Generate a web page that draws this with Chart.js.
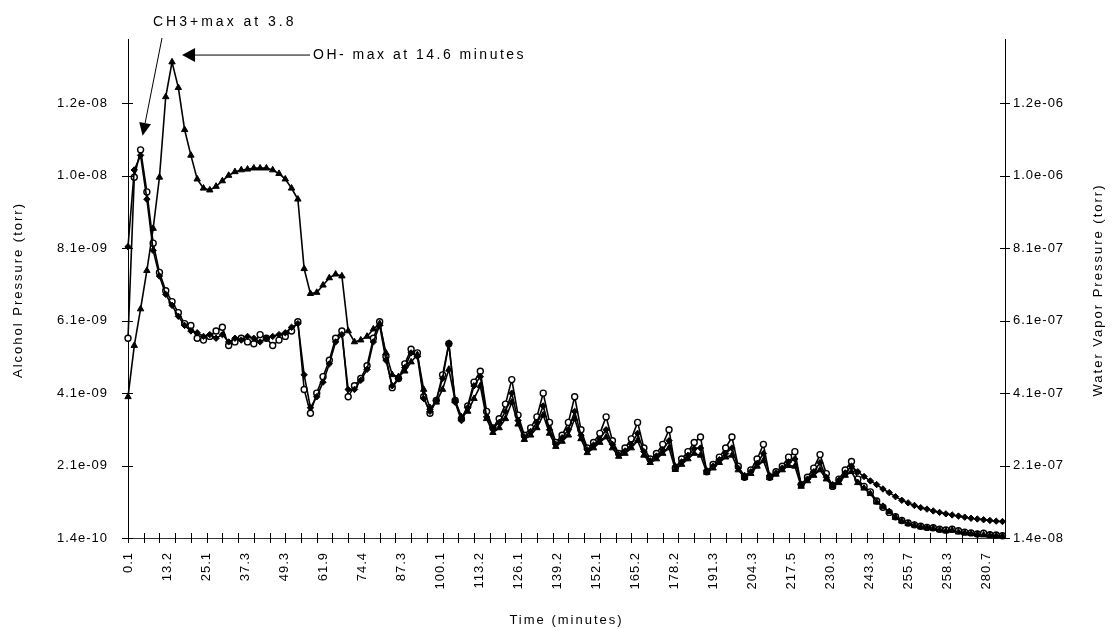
<!DOCTYPE html>
<html>
<head>
<meta charset="utf-8">
<title>Alcohol y vapor de agua</title>
<script src="https://cdn.jsdelivr.net/npm/chart.js@4/dist/chart.umd.min.js"></script>
<style>
  html, body { margin: 0; padding: 0; background: #fff; }
  #grafico { display: block; }
</style>
</head>
<body>
<canvas id="grafico" width="1114" height="629"></canvas>
<script>
// Etiquetas del eje de tiempo (minutos), tal como salen en la figura
const tiempos = ['0.1', '13.2', '25.1', '37.3', '49.3', '61.9', '74.4', '87.3', '100.1', '113.2', '126.1',
  '139.2', '152.1', '165.2', '178.2', '191.3', '204.3', '217.5', '230.3', '243.3', '255.7', '258.3', '280.7'];

// Etiquetas de los ejes de presión
const etiquetasIzq = ['1.4e-10', '2.1e-09', '4.1e-09', '6.1e-09', '8.1e-09', '1.0e-08', '1.2e-08'];
const etiquetasDer = ['1.4e-08', '2.1e-07', '4.1e-07', '6.1e-07', '8.1e-07', '1.0e-06', '1.2e-06'];

// CH3+ (x 1e-9 torr), una lectura cada 10 muestras
const ch3Mas = [
  5.6, 10.0, 10.75, 9.6, 8.2, 7.4, 6.9, 6.6, 6.3, 6.0,
  5.95, 5.6, 5.55, 5.65, 5.8, 5.9, 5.4, 5.5, 5.6, 5.5,
  5.45, 5.7, 5.6, 5.4, 5.55, 5.65, 5.8, 6.05, 4.2, 3.55,
  4.1, 4.55, 5.0, 5.6, 5.8, 4.0, 4.3, 4.5, 4.85, 5.6,
  6.05, 5.1, 4.25, 4.5, 4.9, 5.3, 5.2, 4.0, 3.55, 3.9,
  4.6, 5.45, 3.9, 3.4, 3.75, 4.4, 4.7, 3.6, 3.15, 3.4,
  3.8, 4.47, 3.5, 2.95, 3.15, 3.45, 4.1, 3.3, 2.75, 2.95,
  3.3, 4.0, 3.1, 2.6, 2.75, 3.0, 3.45, 2.8, 2.45, 2.6,
  2.85, 3.3, 2.6, 2.3, 2.45, 2.7, 3.1, 2.05, 2.3, 2.5,
  2.75, 2.9, 1.95, 2.15, 2.35, 2.6, 2.9, 2.1, 1.8, 2.0,
  2.3, 2.7, 1.8, 1.95, 2.1, 2.35, 2.5, 1.6, 1.8, 2.05,
  2.42, 1.9, 1.55, 1.75, 2.0, 2.23, 1.75, 1.55, 1.4, 1.15,
  0.98, 0.84, 0.72, 0.62, 0.55, 0.5, 0.46, 0.43, 0.42, 0.38,
  0.36, 0.38, 0.34, 0.3, 0.28, 0.25, 0.27, 0.23, 0.22, 0.2
];

// OH- (x 1e-9 torr)
const ohMenos = [
  4.0, 5.4, 6.4, 7.45, 8.6, 10.0, 12.2, 13.15, 12.45, 11.3,
  10.6, 9.95, 9.7, 9.65, 9.75, 9.9, 10.05, 10.15, 10.2, 10.22,
  10.25, 10.25, 10.25, 10.2, 10.1, 9.95, 9.7, 9.4, 7.5, 6.82,
  6.85, 7.05, 7.25, 7.35, 7.3, 5.8, 5.5, 5.55, 5.65, 5.85,
  6.0, 5.2, 4.6, 4.55, 4.7, 4.95, 5.15, 4.2, 3.7, 3.85,
  4.2, 4.75, 3.9, 3.45, 3.6, 3.95, 4.3, 3.4, 3.02, 3.15,
  3.4, 3.85, 3.25, 2.83, 2.95, 3.15, 3.5, 3.0, 2.64, 2.78,
  2.95, 3.4, 2.85, 2.47, 2.6, 2.75, 2.9, 2.6, 2.37, 2.45,
  2.6, 2.8, 2.4, 2.2, 2.3, 2.45, 2.6, 2.01, 2.15, 2.3,
  2.45, 2.4, 1.93, 2.05, 2.2, 2.35, 2.4, 2.0, 1.79, 1.9,
  2.1, 2.25, 1.79, 1.88, 2.0, 2.12, 2.1, 1.55, 1.7, 1.85,
  2.0, 1.75, 1.55, 1.65, 1.85, 1.95, 1.65, 1.5, 1.35, 1.12,
  1.0, 0.86, 0.7, 0.6, 0.53, 0.49, 0.44, 0.42, 0.4, 0.36,
  0.33, 0.35, 0.3, 0.28, 0.26, 0.24, 0.22, 0.21, 0.2, 0.19
];

// Vapor de agua (x 1e-7 torr), eje derecho
const vaporAgua = [
  8.1, 10.2, 10.6, 9.4, 8.0, 7.3, 6.8, 6.5, 6.2, 5.95,
  5.8, 5.75, 5.65, 5.7, 5.6, 5.7, 5.5, 5.6, 5.55, 5.65,
  5.6, 5.5, 5.6, 5.65, 5.7, 5.75, 5.9, 6.0, 4.6, 3.7,
  4.0, 4.4, 4.9, 5.5, 5.7, 4.2, 4.2, 4.45, 4.75, 5.5,
  5.95, 5.0, 4.3, 4.5, 4.8, 5.2, 5.1, 3.95, 3.6, 3.9,
  4.5, 5.45, 3.85, 3.35, 3.7, 4.3, 4.55, 3.45, 3.15, 3.3,
  3.6, 4.1, 3.35, 2.9, 3.05, 3.3, 3.75, 3.1, 2.7, 2.88,
  3.1, 3.6, 2.95, 2.55, 2.68, 2.85, 3.1, 2.7, 2.42, 2.52,
  2.7, 3.0, 2.5, 2.25, 2.38, 2.55, 2.8, 2.1, 2.22, 2.4,
  2.58, 2.6, 1.98, 2.1, 2.28, 2.45, 2.6, 2.05, 1.85, 1.95,
  2.18, 2.45, 1.85, 1.92, 2.05, 2.22, 2.3, 1.6, 1.75, 1.95,
  2.2, 1.8, 1.6, 1.72, 1.92, 2.1, 1.95, 1.82, 1.7, 1.6,
  1.48, 1.38, 1.27, 1.17, 1.1, 1.03, 0.97, 0.93, 0.88, 0.84,
  0.8, 0.77, 0.74, 0.71, 0.68, 0.66, 0.64, 0.62, 0.6, 0.59
];

const pasoMuestras = 10;   // muestras entre lecturas guardadas
const muestrasTotal = 1394; // largo del eje en muestras
const cadaEtiqueta = 62;   // una etiqueta de tiempo cada 62 muestras
const cadaMarca = 25;      // una marca del eje cada 25 muestras
const ejeMin = 0.14, ejeMax = 13.78, ejePaso = 1.98;
const fuente = '"Liberation Sans", Arial, sans-serif';

// Convertir una serie en puntos {x: muestra, y: valor}
const puntos = serie => serie.map((v, i) => ({ x: i * pasoMuestras, y: v }));

// Dibuja una línea con punta de flecha rellena
function flecha(ctx, x0, y0, x1, y1, largo, ancho) {
  const ang = Math.atan2(y1 - y0, x1 - x0);
  const bx = x1 - Math.cos(ang) * largo, by = y1 - Math.sin(ang) * largo;
  ctx.beginPath();
  ctx.moveTo(x0, y0);
  ctx.lineTo(bx, by);
  ctx.stroke();
  ctx.beginPath();
  ctx.moveTo(x1, y1);
  ctx.lineTo(bx + Math.sin(ang) * ancho, by - Math.cos(ang) * ancho);
  ctx.lineTo(bx - Math.sin(ang) * ancho, by + Math.cos(ang) * ancho);
  ctx.closePath();
  ctx.fill();
}

// Marcas de los ejes, flechas y títulos
const marcas = {
  id: 'marcas',
  beforeDraw(chart) {
    chart.ctx.letterSpacing = '1px';
  },
  afterDraw(chart) {
    const { ctx, chartArea: area, scales } = chart;
    ctx.save();
    ctx.strokeStyle = '#000';
    ctx.fillStyle = '#000';
    ctx.lineWidth = 1;

    ctx.beginPath();
    for (let m = 0; m <= muestrasTotal; m += cadaMarca) {
      const px = Math.round(scales.x.getPixelForValue(m)) + 0.5;
      ctx.moveTo(px, area.bottom - 5);
      ctx.lineTo(px, area.bottom + 5);
    }
    scales.y.ticks.forEach(t => {
      const py = Math.round(scales.y.getPixelForValue(t.value)) + 0.5;
      ctx.moveTo(area.left - 6, py);
      ctx.lineTo(area.left + 5, py);
    });
    scales.y2.ticks.forEach(t => {
      const py = Math.round(scales.y2.getPixelForValue(t.value)) + 0.5;
      ctx.moveTo(area.right - 5, py);
      ctx.lineTo(area.right + 5, py);
    });
    ctx.stroke();

    // Flecha al máximo del CH3+
    const iCh3 = ch3Mas.indexOf(Math.max(...ch3Mas));
    const xCh3 = scales.x.getPixelForValue(iCh3 * pasoMuestras);
    const yCh3 = scales.y.getPixelForValue(ch3Mas[iCh3]);
    flecha(ctx, 162, 38, xCh3 + 2, yCh3 - 14, 13, 6);

    // Flecha al máximo del OH-
    const iOh = ohMenos.indexOf(Math.max(...ohMenos));
    const xOh = scales.x.getPixelForValue(iOh * pasoMuestras);
    const yOh = scales.y.getPixelForValue(ohMenos[iOh]);
    flecha(ctx, 310, yOh - 7, xOh + 10, yOh - 7, 13, 7);

    ctx.textBaseline = 'middle';
    ctx.font = '14px ' + fuente;
    ctx.letterSpacing = '3px';
    ctx.textAlign = 'left';
    ctx.fillText('CH3+max at 3.8', 153, 22);
    ctx.letterSpacing = '2.5px';
    ctx.fillText('OH- max at 14.6 minutes', 313, yOh - 7);

    // Títulos de los ejes
    ctx.font = '13px ' + fuente;
    ctx.letterSpacing = '2px';
    ctx.textAlign = 'center';
    ctx.fillText('Time (minutes)', (area.left + area.right) / 2, 620);

    ctx.save();
    ctx.translate(18, 290);
    ctx.rotate(-Math.PI / 2);
    ctx.fillText('Alcohol Pressure (torr)', 0, 0);
    ctx.restore();

    ctx.save();
    ctx.translate(1098, 290);
    ctx.rotate(-Math.PI / 2);
    ctx.fillText('Water Vapor Pressure (torr)', 0, 0);
    ctx.restore();

    ctx.restore();
  }
};

// Ticks fijos de un eje de presión
const ticksPresion = etiquetas => scale => {
  scale.ticks = etiquetas.map((_, i) => ({ value: ejeMin + i * ejePaso }));
};

const ctx = document.getElementById('grafico').getContext('2d');
const grafico = new Chart(ctx, {
  type: 'line',
  data: {
    datasets: [
      {
        label: 'CH3+',
        data: puntos(ch3Mas),
        yAxisID: 'y',
        order: 3, // se dibuja primero, queda debajo
        borderColor: '#000',
        borderWidth: 1.6,
        pointStyle: 'circle',
        pointRadius: 3,
        pointBackgroundColor: '#fff',
        pointBorderColor: '#000',
        pointBorderWidth: 1.4,
        clip: 8
      },
      {
        label: 'OH-',
        data: puntos(ohMenos),
        yAxisID: 'y',
        order: 2,
        borderColor: '#000',
        borderWidth: 1.6,
        pointStyle: 'triangle',
        pointRadius: 3.7,
        pointBackgroundColor: '#000',
        pointBorderColor: '#000',
        pointBorderWidth: 1,
        clip: 8
      },
      {
        label: 'Water vapor',
        data: puntos(vaporAgua),
        yAxisID: 'y2',
        order: 1,
        borderColor: '#000',
        borderWidth: 1.6,
        pointStyle: 'rectRot',
        pointRadius: 3.2,
        pointBackgroundColor: '#000',
        pointBorderColor: '#000',
        pointBorderWidth: 1,
        clip: 8
      }
    ]
  },
  options: {
    responsive: false,
    animation: false,
    events: [],
    layout: { padding: { top: 39, left: 0, right: 0, bottom: 0 } },
    elements: { line: { tension: 0 } },
    plugins: {
      legend: { display: false },
      tooltip: { enabled: false }
    },
    scales: {
      x: {
        type: 'linear',
        position: 'bottom',
        bounds: 'data',
        min: 0,
        max: muestrasTotal,
        afterBuildTicks: scale => {
          scale.ticks = tiempos.map((_, k) => ({ value: k * cadaEtiqueta }));
        },
        afterFit: scale => { scale.height = 91; },
        ticks: {
          autoSkip: false,
          minRotation: 90,
          maxRotation: 90,
          padding: 14,
          color: '#000',
          font: { family: fuente, size: 13 },
          callback: (v, i) => tiempos[i]
        },
        grid: { display: false, drawTicks: false },
        border: { display: true, color: '#333', width: 1, dash: [4, 3] }
      },
      y: {
        type: 'linear',
        position: 'left',
        bounds: 'data',
        min: ejeMin,
        max: ejeMax,
        afterBuildTicks: ticksPresion(etiquetasIzq),
        afterFit: scale => { scale.width = 128; },
        ticks: {
          padding: 20,
          color: '#000',
          font: { family: fuente, size: 13 },
          callback: (v, i) => etiquetasIzq[i]
        },
        grid: { display: false, drawTicks: false },
        border: { display: true, color: '#000', width: 1 }
      },
      y2: {
        type: 'linear',
        position: 'right',
        bounds: 'data',
        min: ejeMin,
        max: ejeMax,
        afterBuildTicks: ticksPresion(etiquetasDer),
        afterFit: scale => { scale.width = 109; },
        ticks: {
          padding: 8,
          color: '#000',
          font: { family: fuente, size: 13 },
          callback: (v, i) => etiquetasDer[i]
        },
        grid: { display: false, drawTicks: false },
        border: { display: true, color: '#000', width: 1 }
      }
    }
  },
  plugins: [marcas]
});
</script>
</body>
</html>
